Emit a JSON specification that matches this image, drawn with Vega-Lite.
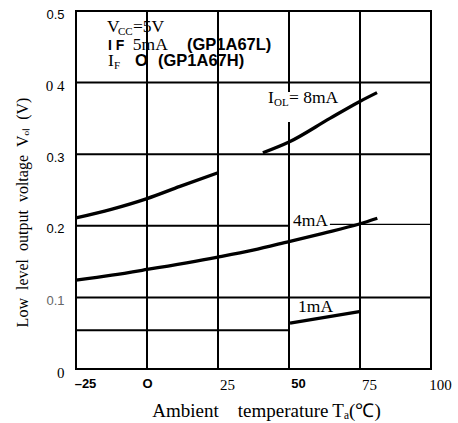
{
  "$schema": "https://vega.github.io/schema/vega-lite/v6.json",
  "width": 355,
  "height": 358,
  "autosize": {"type": "none"},
  "padding": {"left": 76, "top": 11, "right": 27, "bottom": 54},
  "background": "white",
  "config": {
    "view": {"stroke": "black", "strokeWidth": 2},
    "font": "Liberation Serif"
  },
  "datasets": {
    "grid": [
      {"x": -25, "x2": 100, "y": 0.1, "y2": 0.1},
      {"x": -25, "x2": 50, "y": 0.2, "y2": 0.2},
      {"x": -25, "x2": 100, "y": 0.3, "y2": 0.3},
      {"x": -25, "x2": 100, "y": 0.4, "y2": 0.4},
      {"x": -25, "x2": 50, "y": 0.054, "y2": 0.054},
      {"x": 0, "x2": 0, "y": 0, "y2": 0.5},
      {"x": 25, "x2": 25, "y": 0, "y2": 0.5},
      {"x": 50, "x2": 50, "y": 0, "y2": 0.345},
      {"x": 50, "x2": 50, "y": 0.387, "y2": 0.5},
      {"x": 75, "x2": 75, "y": 0, "y2": 0.5}
    ],
    "leader": [
      {"x": 64.4, "x2": 100, "y": 0.202, "y2": 0.202}
    ],
    "curves": [
      {"seg": "8mA-a", "x": -25, "y": 0.211},
      {"seg": "8mA-a", "x": -12.6, "y": 0.223},
      {"seg": "8mA-a", "x": 0, "y": 0.238},
      {"seg": "8mA-a", "x": 11.6, "y": 0.255},
      {"seg": "8mA-a", "x": 25, "y": 0.274},
      {"seg": "8mA-b", "x": 40.8, "y": 0.302},
      {"seg": "8mA-b", "x": 50, "y": 0.317},
      {"seg": "8mA-b", "x": 64.4, "y": 0.35},
      {"seg": "8mA-b", "x": 74.6, "y": 0.373},
      {"seg": "8mA-b", "x": 81, "y": 0.386},
      {"seg": "4mA", "x": -25, "y": 0.124},
      {"seg": "4mA", "x": -12.4, "y": 0.131},
      {"seg": "4mA", "x": 0, "y": 0.139},
      {"seg": "4mA", "x": 24.5, "y": 0.156},
      {"seg": "4mA", "x": 37.3, "y": 0.166},
      {"seg": "4mA", "x": 50, "y": 0.178},
      {"seg": "4mA", "x": 62, "y": 0.1895},
      {"seg": "4mA", "x": 74.75, "y": 0.2025},
      {"seg": "4mA", "x": 81.1, "y": 0.2105},
      {"seg": "1mA", "x": 50.35, "y": 0.0642},
      {"seg": "1mA", "x": 74.75, "y": 0.08}
    ],
    "serifBig": [
      {"t": "V", "x": -14.08, "y": 0.4707},
      {"t": "=5V", "x": -4.93, "y": 0.4707},
      {"t": "5mA", "x": -5.0, "y": 0.4462},
      {"t": "I", "x": -13.73, "y": 0.4232},
      {"t": "I", "x": 42.6, "y": 0.3715},
      {"t": "= 8mA", "x": 50.0, "y": 0.3715},
      {"t": "4mA", "x": 51.4, "y": 0.1997},
      {"t": "1mA", "x": 53.2, "y": 0.0796}
    ],
    "serifSub": [
      {"t": "CC", "x": -10.21, "y": 0.4665},
      {"t": "F", "x": -11.62, "y": 0.419},
      {"t": "OL", "x": 44.7, "y": 0.3673}
    ],
    "sansBoldSmall": [
      {"t": "I F", "x": -13.73, "y": 0.4462}
    ],
    "sansBold": [
      {"t": "(GP1A67L)", "x": 14.08, "y": 0.4462},
      {"t": "O", "x": -4.23, "y": 0.4232},
      {"t": "(GP1A67H)", "x": 3.87, "y": 0.4232}
    ]
  },
  "encoding": {
    "x": {
      "field": "x",
      "type": "quantitative",
      "scale": {"domain": [-25, 100], "nice": false, "zero": false},
      "axis": {
        "values": [-25, 0, 25, 50, 75, 100],
        "grid": false,
        "ticks": false,
        "domain": false,
        "labelFlush": false,
        "labelOverlap": false,
        "labelPadding": 8,
        "labelBaseline": "top",
        "labelColor": "black",
        "labelExpr": "datum.value == -25 ? '–25' : datum.value == 0 ? 'O' : '' + datum.value",
        "labelFont": {"condition": {"test": "datum.value == -25 || datum.value == 0 || datum.value == 50", "value": "Liberation Sans"}, "value": "Liberation Serif"},
        "labelFontWeight": {"condition": {"test": "datum.value == -25 || datum.value == 0 || datum.value == 50", "value": "bold"}, "value": "normal"},
        "labelFontSize": {"condition": {"test": "datum.value == -25 || datum.value == 0 || datum.value == 50", "value": 13}, "value": 15},
        "labelOffset": {"condition": {"test": "datum.value == 0", "value": 0}, "value": 9},
        "title": "Ambient\u00a0\u00a0\u00a0\u00a0temperature\u2009T\u2090(\u2103)",
        "titleFont": "Liberation Serif",
        "titleFontSize": 19,
        "titleFontWeight": "normal",
        "titleColor": "black",
        "titleX": 190,
        "titleAlign": "center",
        "titleY": 47,
        "titleBaseline": "alphabetic"
      }
    },
    "y": {
      "field": "y",
      "type": "quantitative",
      "scale": {"domain": [0, 0.5], "nice": false, "zero": false},
      "axis": {
        "values": [0, 0.1, 0.2, 0.3, 0.4, 0.5],
        "grid": false,
        "ticks": false,
        "domain": false,
        "labelFlush": false,
        "labelOverlap": false,
        "labelPadding": 12,
        "labelOffset": 3,
        "labelExpr": "datum.value == 0.4 ? '0 4' : datum.value == 0 ? '0' : format(datum.value, '.1f')",
        "labelFont": {"condition": {"test": "datum.value == 0.4 || datum.value == 0", "value": "Liberation Serif"}, "value": "Liberation Sans"},
        "labelFontSize": {"condition": {"test": "datum.value == 0.4 || datum.value == 0", "value": 15}, "value": 13},
        "labelColor": {"condition": {"test": "datum.value == 0.1", "value": "#666666"}, "value": "black"},
        "title": "Low \u00a0level \u00a0output \u00a0voltage \u00a0V\u2092\u2097 \u00a0(V)",
        "titleFont": "Liberation Serif",
        "titleFontSize": 16,
        "titleFontWeight": "normal",
        "titleColor": "black",
        "titleAngle": -90,
        "titleX": -54,
        "titleY": 201,
        "titleAlign": "center",
        "titleBaseline": "middle"
      }
    }
  },
  "layer": [
    {
      "data": {"name": "grid"},
      "mark": {"type": "rule", "color": "black", "strokeWidth": 2},
      "encoding": {
        "x2": {"field": "x2"},
        "y2": {"field": "y2"}
      }
    },
    {
      "data": {"name": "leader"},
      "mark": {"type": "rule", "color": "black", "strokeWidth": 1.3},
      "encoding": {
        "x2": {"field": "x2"},
        "y2": {"field": "y2"}
      }
    },
    {
      "data": {"name": "curves"},
      "mark": {"type": "line", "color": "black", "strokeWidth": 3.3, "interpolate": "monotone"},
      "encoding": {
        "detail": {"field": "seg", "type": "nominal"}
      }
    },
    {
      "data": {"name": "serifBig"},
      "mark": {"type": "text", "font": "Liberation Serif", "fontSize": 17.5, "align": "left", "baseline": "alphabetic", "color": "black"},
      "encoding": {"text": {"field": "t"}}
    },
    {
      "data": {"name": "serifSub"},
      "mark": {"type": "text", "font": "Liberation Serif", "fontSize": 11, "align": "left", "baseline": "alphabetic", "color": "black"},
      "encoding": {"text": {"field": "t"}}
    },
    {
      "data": {"name": "sansBoldSmall"},
      "mark": {"type": "text", "font": "Liberation Sans", "fontSize": 14, "fontWeight": "bold", "align": "left", "baseline": "alphabetic", "color": "black"},
      "encoding": {"text": {"field": "t"}}
    },
    {
      "data": {"name": "sansBold"},
      "mark": {"type": "text", "font": "Liberation Sans", "fontSize": 16.5, "fontWeight": "bold", "align": "left", "baseline": "alphabetic", "color": "black"},
      "encoding": {"text": {"field": "t"}}
    }
  ]
}
